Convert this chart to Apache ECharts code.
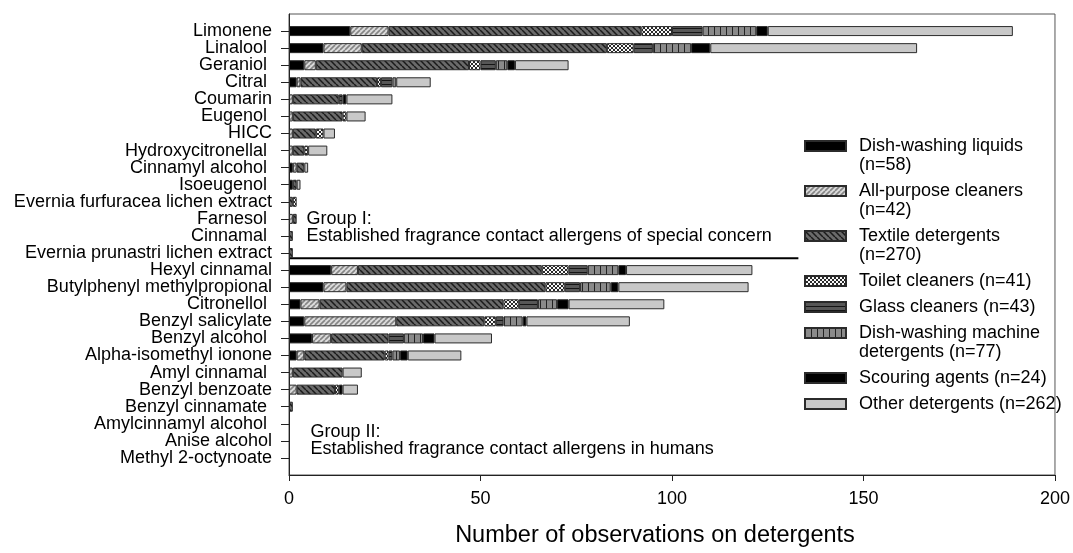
<!DOCTYPE html>
<html>
<head>
<meta charset="utf-8">
<script src="https://cdn.jsdelivr.net/npm/echarts@6/dist/echarts.min.js"></script>
<style>
  html, body { margin: 0; padding: 0; background: #fff; }
  #chart { width: 1073px; height: 553px; }
</style>
</head>
<body>
<div id="chart"></div>
<script>
// Fragrance allergens, listed top to bottom (Group I first, then Group II)
const allergens = [
  'Limonene', 'Linalool ', 'Geraniol ', 'Citral ', 'Coumarin', 'Eugenol ', 'HICC',
  'Hydroxycitronellal ', 'Cinnamyl alcohol ', 'Isoeugenol ',
  'Evernia furfuracea lichen extract', 'Farnesol ', 'Cinnamal ',
  'Evernia prunastri lichen extract',
  'Hexyl cinnamal', 'Butylphenyl methylpropional', 'Citronellol ', 'Benzyl salicylate',
  'Benzyl alcohol ', 'Alpha-isomethyl ionone', 'Amyl cinnamal ', 'Benzyl benzoate',
  'Benzyl cinnamate ', 'Amylcinnamyl alcohol ', 'Anise alcohol', 'Methyl 2-octynoate'
];

// Detergent product types (stack order, left to right)
const detergentTypes = [
  'Dish-washing liquids', 'All-purpose cleaners', 'Textile detergents', 'Toilet cleaners',
  'Glass cleaners', 'Dish-washing machine detergents', 'Scouring agents', 'Other detergents'
];
const legendLabels = [
  'Dish-washing liquids\n(n=58)', 'All-purpose cleaners\n(n=42)', 'Textile detergents\n(n=270)',
  'Toilet cleaners (n=41)', 'Glass cleaners (n=43)', 'Dish-washing machine\ndetergents (n=77)',
  'Scouring agents (n=24)', 'Other detergents (n=262)'
];

// Number of observations per allergen, one array per detergent type
const dishWashing = [16, 9, 4, 2, 0, 0, 0, 0, 1, 1, 0, 0, 0, 0, 11, 9, 3, 4, 6, 2, 0, 0, 0, 0, 0, 0];
const allPurpose  = [10, 10, 3, 1, 1, 1, 1, 1, 1, 0, 0, 1, 0, 0, 7, 6, 5, 24, 5, 2, 1, 2, 0, 0, 0, 0];
const textile     = [66, 64, 40, 20, 12, 13, 6, 3, 2, 1, 1, 1, 1, 1, 48, 52, 48, 23, 15, 21, 13, 10, 1, 0, 0, 0];
const toilet      = [8, 7, 3, 1, 0, 1, 2, 1, 0, 0, 1, 0, 0, 0, 7, 5, 4, 3, 0, 1, 0, 1, 0, 0, 0, 0];
const glass       = [8, 5, 4, 3, 1, 0, 0, 0, 0, 0, 0, 0, 0, 0, 5, 4, 5, 2, 4, 1, 0, 0, 0, 0, 0, 0];
const dishMachine = [14, 10, 3, 1, 0, 0, 0, 0, 0, 0, 0, 0, 0, 0, 8, 8, 5, 5, 5, 2, 0, 0, 0, 0, 0, 0];
const scouring    = [3, 5, 2, 0, 1, 0, 0, 0, 0, 0, 0, 0, 0, 0, 2, 2, 3, 1, 3, 2, 0, 1, 0, 0, 0, 0];
const other       = [64, 54, 14, 9, 12, 5, 3, 5, 1, 1, 0, 0, 0, 0, 33, 34, 25, 27, 15, 14, 5, 4, 0, 0, 0, 0];

const xTicks = [0, 50, 100, 150, 200];

const seriesValues = [dishWashing, allPurpose, textile, toilet, glass, dishMachine, scouring, other];
const FONT = '"Liberation Sans", Arial, sans-serif';

// ---- monochrome fill patterns ----
function pattern(w, h, draw) {
  const c = document.createElement('canvas');
  c.width = w; c.height = h;
  const ctx = c.getContext('2d');
  draw(ctx, w, h);
  return { image: c, repeat: 'repeat' };
}
function diagonal(bg, fg, s, lw, forward) {
  return pattern(s, s, (ctx) => {
    ctx.fillStyle = bg; ctx.fillRect(0, 0, s, s);
    ctx.strokeStyle = fg; ctx.lineWidth = lw;
    for (let k = -1; k <= 1; k++) {
      ctx.beginPath();
      if (forward) { ctx.moveTo(k * s, s); ctx.lineTo(k * s + s, 0); }
      else { ctx.moveTo(k * s, 0); ctx.lineTo(k * s + s, s); }
      ctx.stroke();
    }
  });
}
const fills = [
  '#000000',
  diagonal('#dcdcdc', '#858585', 5, 1.6, true),
  diagonal('#6a6a6a', '#1a1a1a', 6, 1.5, false),
  pattern(4, 4, (ctx) => {
    ctx.fillStyle = '#fafafa'; ctx.fillRect(0, 0, 4, 4);
    ctx.strokeStyle = '#2a2a2a'; ctx.lineWidth = 1;
    for (let k = -1; k <= 1; k++) {
      ctx.beginPath(); ctx.moveTo(k * 4, 4); ctx.lineTo(k * 4 + 4, 0); ctx.stroke();
      ctx.beginPath(); ctx.moveTo(k * 4, 0); ctx.lineTo(k * 4 + 4, 4); ctx.stroke();
    }
  }),
  pattern(4, 4, (ctx) => {
    ctx.fillStyle = '#575757'; ctx.fillRect(0, 0, 4, 4);
    ctx.fillStyle = '#151515'; ctx.fillRect(0, 0, 4, 1);
  }),
  pattern(6, 4, (ctx) => {
    ctx.fillStyle = '#8a8a8a'; ctx.fillRect(0, 0, 6, 4);
    ctx.fillStyle = '#222222'; ctx.fillRect(0, 0, 1, 4);
  }),
  '#000000',
  '#c8c8c8'
];

// blank slots above the first and below the last allergen give the axis its end padding
const yCategories = [''].concat(allergens, ['']);

const legendFirstLine = [146, 191, 236, 281, 307, 333, 378, 404];

const chart = echarts.init(document.getElementById('chart'), null, { renderer: 'canvas' });

const option = {
  animation: false,
  backgroundColor: '#ffffff',
  textStyle: { fontFamily: FONT },
  grid: {
    left: 289, right: 16, top: 14, bottom: 74,
    show: true, borderColor: '#555', borderWidth: 1, containLabel: false
  },
  xAxis: {
    type: 'value', min: xTicks[0], max: xTicks[xTicks.length - 1], interval: xTicks[1] - xTicks[0],
    axisLine: { show: true, lineStyle: { color: '#222', width: 1 } },
    axisTick: { show: true, inside: false, length: 6, lineStyle: { color: '#222' } },
    axisLabel: { fontSize: 18, color: '#000', margin: 15, fontFamily: FONT },
    splitLine: { show: false },
    name: 'Number of observations on detergents',
    nameLocation: 'middle', nameGap: 49,
    nameTextStyle: { fontSize: 23.5, color: '#000', fontFamily: FONT, padding: [0, 34, 0, 0] }
  },
  yAxis: {
    type: 'category', data: yCategories, inverse: true, boundaryGap: false,
    axisLine: { show: true, onZero: false, lineStyle: { color: '#222', width: 1 } },
    axisTick: {
      show: true, length: 8, lineStyle: { color: '#222' },
      interval: (idx, val) => val !== ''
    },
    axisLabel: { interval: 0, fontSize: 18, color: '#000', margin: 17, fontFamily: FONT },
    splitLine: { show: false }
  },
  legend: detergentTypes.map((name, i) => {
    const twoLine = legendLabels[i].indexOf('\n') >= 0;
    return {
      data: [name],
      orient: 'vertical',
      left: 804,
      top: legendFirstLine[i] - (twoLine ? 28.5 : 9.5),
      padding: 0,
      itemWidth: 41, itemHeight: 10, icon: 'rect',
      selectedMode: false,
      // a leading blank line keeps the first text line level with the swatch
      formatter: () => (twoLine ? '\n' : '') + legendLabels[i],
      textStyle: {
        fontSize: 18, lineHeight: 19, color: '#000', fontFamily: FONT,
        padding: [0, 0, 0, 8]
      }
    };
  }),
  series: detergentTypes.map((name, i) => ({
    name: name,
    type: 'bar',
    stack: 'detergents',
    barWidth: 10,
    data: [null].concat(seriesValues[i].map(v => (v > 0 ? v : null)), [null]),
    itemStyle: { color: fills[i], borderColor: '#2b2b2b', borderWidth: 1 },
    emphasis: { disabled: true }
  }))
};

chart.setOption(option);

// Group annotations and the divider, placed through the axes
function px(x, cat) { return chart.convertToPixel({ gridIndex: 0 }, [x, cat]); }
const rowPrunastri = px(0, 'Evernia prunastri lichen extract');
const rowHexyl = px(0, 'Hexyl cinnamal');
const dividerY = rowPrunastri[1] + 0.3 * (rowHexyl[1] - rowPrunastri[1]);
const dividerEnd = px(133, 'Hexyl cinnamal')[0];

const g1a = px(4.6, 'Farnesol ');
const g1b = px(4.6, 'Cinnamal ');
const rowAmyl = px(5.6, 'Amylcinnamyl alcohol ');
const rowAnise = px(5.6, 'Anise alcohol');
const rowMethyl = px(5.6, 'Methyl 2-octynoate');

const txt = (x, y, s) => ({
  type: 'text', x: x, y: y, silent: true,
  style: { text: s, fontSize: 18, fontFamily: FONT, fill: '#000', verticalAlign: 'middle', align: 'left' }
});

chart.setOption({
  graphic: [
    {
      type: 'line', silent: true,
      shape: { x1: rowHexyl[0], y1: dividerY, x2: dividerEnd, y2: dividerY },
      style: { stroke: '#000', lineWidth: 2 }
    },
    txt(g1a[0], g1a[1], 'Group I:'),
    txt(g1b[0], g1b[1], 'Established fragrance contact allergens of special concern'),
    txt(rowAmyl[0], (rowAmyl[1] + rowAnise[1]) / 2, 'Group II:'),
    txt(rowAnise[0], (rowAnise[1] + rowMethyl[1]) / 2, 'Established fragrance contact allergens in humans')
  ]
});
</script>
</body>
</html>
